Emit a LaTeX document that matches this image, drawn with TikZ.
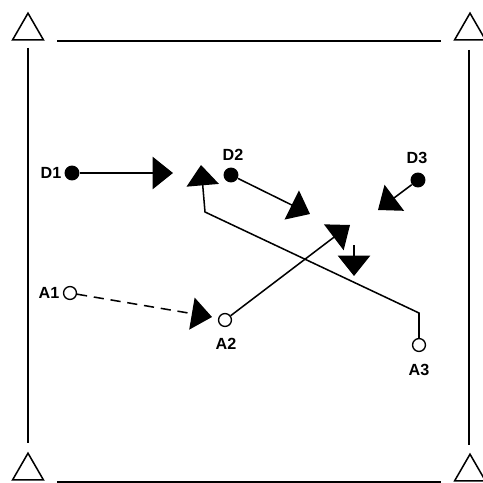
\documentclass[tikz,border=0pt]{standalone}
\usepackage{fontspec}
\setmainfont{Liberation Sans}
\usetikzlibrary{arrows.meta,shapes.geometric}

\tikzset{
  player/.style={circle,fill=black,minimum size=8.8pt,inner sep=0pt},
  spot/.style={circle,draw=black,line width=0.8pt,fill=white,minimum size=7.6pt,inner sep=0pt},
  cone/.style={regular polygon,regular polygon sides=3,draw=black,line width=0.9pt,minimum size=21pt,inner sep=0pt},
  tag/.style={font=\fontsize{9.5}{11}\selectfont\bfseries,inner sep=0pt},
  move/.style={line width=0.9pt,-{Triangle[length=12pt,width=19pt]}},
}

\begin{document}
\begin{tikzpicture}[x=0.020704cm,y=-0.020704cm]
\useasboundingbox (0,0) rectangle (483,483);
% court
\node [cone] (TL) at (28,31) {};
\node [cone] (TR) at (470,31) {};
\node [cone] (BL) at (28,471) {};
\node [cone] (BR) at (470,472) {};
\draw [line width=0.9pt] (57,41) -- (441,41);
\draw [line width=0.9pt] (57,482) -- (441,482);
\draw [line width=0.9pt] (28,48) -- (28,443);
\draw [line width=0.9pt] (469,50) -- (469,445);
% players
\node [player] (D1) at (72,173) {};
\node [player] (D2) at (231,175) {};
\node [player] (D3) at (418,180) {};
\node [spot] (A1) at (70,293) {};
\node [spot] (A2) at (225,320) {};
\node [spot] (A3) at (419,345) {};
\node [tag] (D1t) at (51,173) {D1};
\node [tag] (D2t) at (233,155) {D2};
\node [tag] (D3t) at (417,158) {D3};
\node [tag] (A1t) at (49,293) {A1};
\node [tag] (A2t) at (226,344) {A2};
\node [tag] (A3t) at (419,370) {A3};
% arrow ends
\coordinate (e1) at (173,173);
\coordinate (e2) at (310,214);
\coordinate (e3) at (378,210);
\coordinate (e4) at (350,225);
\coordinate (e5) at (201,165);
\coordinate (e6) at (212,317);
\coordinate (k1) at (419,313);
\coordinate (k2) at (205,212);
\coordinate (s1) at (354,245);
\coordinate (s2) at (354,276);
% moves
\draw [move] (D1) -- (e1);
\draw [move] (D2) -- (e2);
\draw [move] (D3) -- (e3);
\draw [move] (A2) -- (e4);
\draw [move] (A3) -- (k1) -- (k2) -- (e5);
\draw [move,dash pattern=on 6pt off 4pt] (A1) -- (e6);
\draw [move] (s1) -- (s2);
\end{tikzpicture}
\end{document}
